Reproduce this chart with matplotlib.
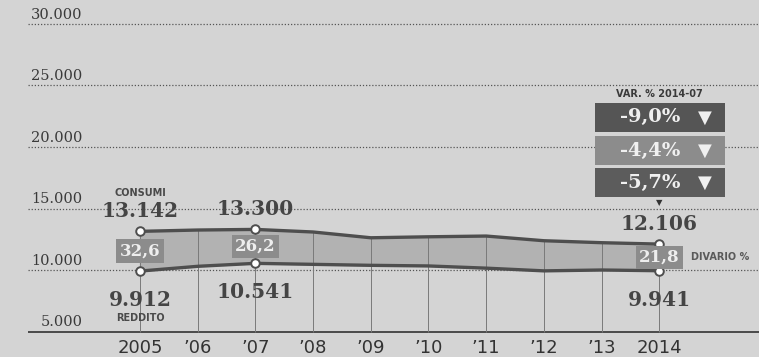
import matplotlib.pyplot as plt
import numpy as np

# Data
years = [2005, 2006, 2007, 2008, 2009, 2010, 2011, 2012, 2013, 2014]
year_labels = ["2005", "\u201906", "\u201907", "\u201908", "\u201909",
               "\u201910", "\u201911", "\u201912", "\u201913", "2014"]
consumi = [13142, 13250, 13300, 13090, 12620, 12700, 12760, 12380, 12220, 12106]
reddito = [9912, 10300, 10541, 10460, 10380, 10330, 10150, 9930, 10000, 9941]
y_ticks = [5000, 10000, 15000, 20000, 25000, 30000]
marked_years = [2005, 2007, 2014]
divario = ["32,6", "26,2", "21,8"]
var_labels = ["-9,0%", "-4,4%", "-5,7%"]

BG = "#d4d4d4"
INK = "#3a3a3a"
LINE = "#4e4e4e"

fig = plt.figure(figsize=(7.59, 3.57), dpi=100, facecolor=BG)
ax = fig.add_axes([0, 0, 1, 1], facecolor=BG)
ax.set_xlim(2002.574, 2015.728)
ax.set_ylim(2927, 31951)
ax.axis("off")

x_left = 2003.06

# horizontal dotted grid + y labels
for v in y_ticks:
    if v == 5000:
        ax.hlines(v, x_left, 2016, color="#333333", lw=1.2, zorder=2)
    else:
        ax.hlines(v, x_left, 2016, color="#555555", lw=0.9,
                  linestyles=(0, (1, 1.5)), zorder=1)
    ax.text(2004.0, v + 180, f"{v:,}".replace(",", "."), ha="right",
            va="bottom", fontsize=10.5, family="DejaVu Serif", color=INK)

# vertical year lines
ax.vlines(years, 5000, consumi, color="#7a7a7a", lw=0.7, zorder=2)

# band between the two series
ax.fill_between(years, reddito, consumi, color="#b2b2b2", zorder=1.5)
ax.plot(years, consumi, color=LINE, lw=2.4, zorder=3, solid_capstyle="round")
ax.plot(years, reddito, color=LINE, lw=2.4, zorder=3, solid_capstyle="round")

mk_c = [consumi[years.index(y)] for y in marked_years]
mk_r = [reddito[years.index(y)] for y in marked_years]
ax.scatter(marked_years, mk_c, s=38, facecolor="white", edgecolor=LINE,
           lw=1.4, zorder=4)
ax.scatter(marked_years, mk_r, s=38, facecolor="white", edgecolor=LINE,
           lw=1.4, zorder=4)

# value labels
for y, c, r in zip(marked_years, mk_c, mk_r):
    ax.text(y, c + 1620, f"{c:,}".replace(",", "."), ha="center",
            va="center", fontsize=14.5, fontweight="bold",
            family="DejaVu Serif", color="#454545", zorder=5)
    ax.text(y, r - 2350, f"{r:,}".replace(",", "."), ha="center",
            va="center", fontsize=14.5, fontweight="bold",
            family="DejaVu Serif", color="#454545", zorder=5)

ax.text(2005, 16260, "CONSUMI", ha="center", va="center", fontsize=7,
        fontweight="bold", color="#4a4a4a")
ax.text(2005, 6100, "REDDITO", ha="center", va="center", fontsize=7,
        fontweight="bold", color="#4a4a4a")

# divario boxes
for y, c, r, d in zip(marked_years, mk_c, mk_r, divario):
    ax.text(y, (c + r) / 2, d, ha="center", va="center", fontsize=12,
            fontweight="bold", family="DejaVu Serif", color="#eeeeee",
            zorder=5,
            bbox=dict(boxstyle="square,pad=0.2", fc="#8c8c8c", ec="none"))
ax.text(2014.55, (mk_c[-1] + mk_r[-1]) / 2, "DIVARIO %", ha="left",
        va="center", fontsize=7, fontweight="bold", color="#5a5a5a")

# variation boxes
box_colors = ["#555555", "#8c8c8c", "#5c5c5c"]
box_y = [22400, 19715, 17114]
ax.text(2014.0, 24309, "VAR. % 2014-07", ha="center", va="center",
        fontsize=7, fontweight="bold", color="#3a3a3a")
for by, lab, col in zip(box_y, var_labels, box_colors):
    ax.add_patch(plt.Rectangle((2012.886, by - 1180), 2.253, 2360,
                               fc=col, ec="none", zorder=4))
    ax.text(2013.84, by, lab, ha="center", va="center", fontsize=14,
            fontweight="bold", family="DejaVu Serif", color="#f0f0f0",
            zorder=5)
    ax.text(2014.79, by, "\u25bc", ha="center", va="center", fontsize=13,
            color="#f0f0f0", zorder=5)
ax.text(2014.0, 15447, "\u25bc", ha="center", va="center", fontsize=6,
        color="#333333", zorder=5)

# x labels
for y, lab in zip(years, year_labels):
    ax.text(y, 3620, lab, ha="center", va="center", fontsize=13,
            family="DejaVu Sans", color="#333333")

fig.savefig("out.png", dpi=100, facecolor=BG)
